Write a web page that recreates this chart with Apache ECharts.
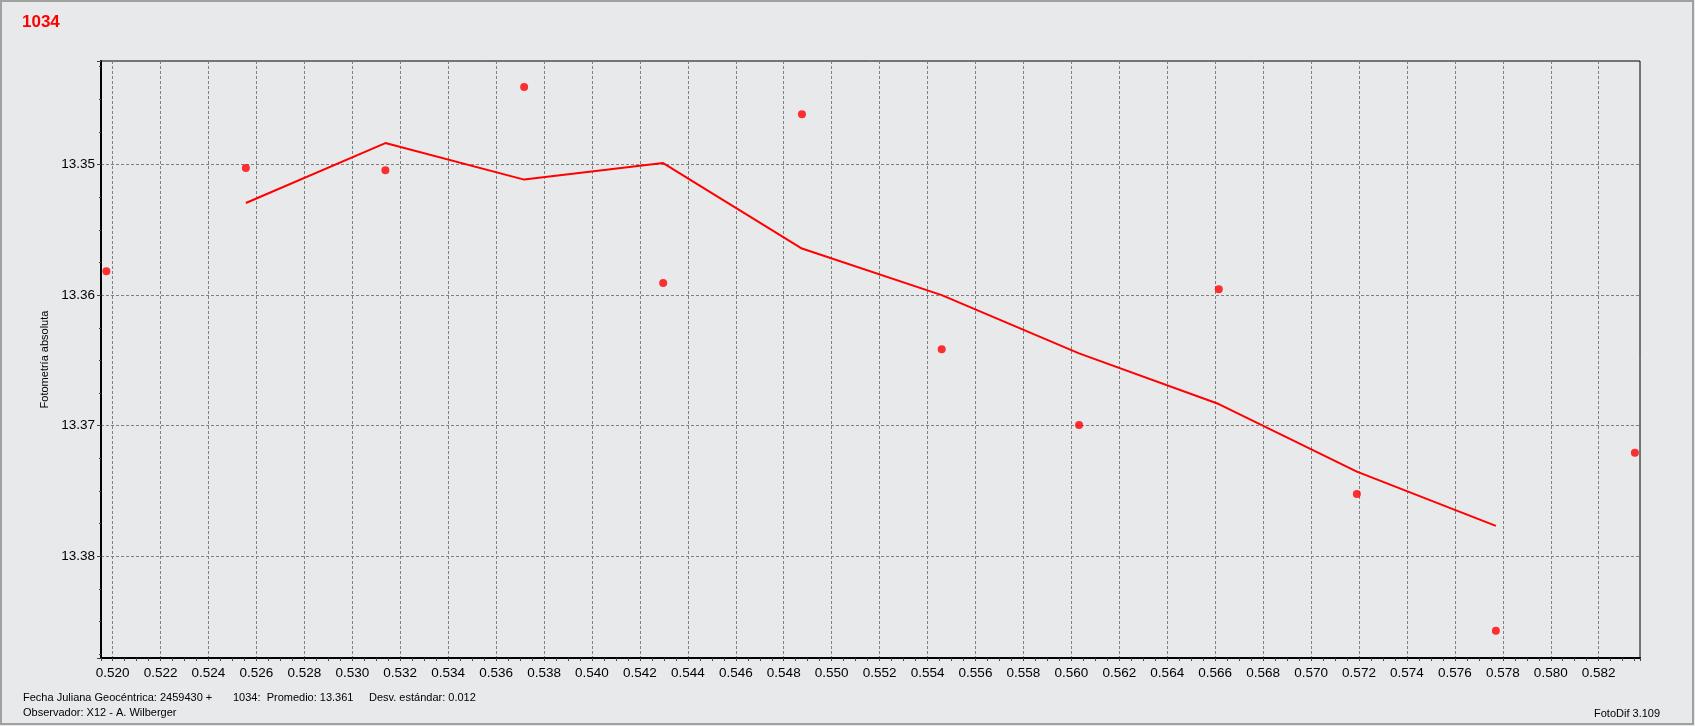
<!DOCTYPE html>
<html>
<head>
<meta charset="utf-8">
<script src="https://cdn.jsdelivr.net/npm/echarts@6/dist/echarts.min.js"></script>
<style>
html,body{margin:0;padding:0;background:#e8e9eb;}
#chart{width:1695px;height:726px;}
</style>
</head>
<body>
<div id="chart"></div>
<script>
// Observation times (JD fraction, + 2459430)
const obsTimes = [0.51974, 0.52556, 0.53138, 0.53717, 0.54297, 0.54876, 0.55459, 0.56032, 0.56615, 0.57191, 0.57771, 0.58351];
// Absolute photometry of each observation
const obsMag = [13.35816, 13.35026, 13.35044, 13.34406, 13.35906, 13.34615, 13.36415, 13.36994, 13.35954, 13.37523, 13.38571, 13.37207];
// Smoothed (running mean) curve as drawn
const avgTimes = [0.52556, 0.53138, 0.53717, 0.54297, 0.54876, 0.55459, 0.56032, 0.56615, 0.57191, 0.57771];
const avgMag = [13.35294, 13.34835, 13.35115, 13.34988, 13.35643, 13.36000, 13.36446, 13.36834, 13.37352, 13.37767];

const titleText = '1034';
const yName = 'Fotometría absoluta';
const footer1a = 'Fecha Juliana Geocéntrica: 2459430 +';
const footer1b = '1034:  Promedio: 13.361';
const footer1c = 'Desv. estándar: 0.012';
const footer2 = 'Observador: X12 - A. Wilberger';
const footerRight = 'FotoDif 3.109';

const xMin = 0.519516, xMax = 0.583723, xStep = 0.002;
const yMin = 13.342066, yMax = 13.387789, yStep = 0.01;

const SANS = "'Liberation Sans', Arial, sans-serif";

const chart = echarts.init(document.getElementById('chart'), null, {renderer: 'canvas'});
const gridLine = {show: true, lineStyle: {color: '#808080', width: 1, type: [3, 2]}, showMinLine: false, showMaxLine: false};

chart.setOption({
  backgroundColor: '#e8e9eb',
  animation: false,
  title: {
    text: titleText, left: 17, top: 9,
    textStyle: {color: '#ff0000', fontSize: 17, fontWeight: 'bold', fontFamily: SANS}
  },
  grid: {left: 101, top: 61, right: 55, bottom: 68, show: true, borderColor: '#000', borderWidth: 1, backgroundColor: 'transparent', outerBoundsMode: 'none'},
  xAxis: {
    type: 'value', min: xMin, max: xMax, minInterval: xStep, maxInterval: xStep,
    axisLine: {show: true, onZero: false, lineStyle: {color: '#000', width: 2}},
    axisTick: {show: true, length: 3, lineStyle: {color: '#444'}},
    minorTick: {show: true, splitNumber: 4, length: 3, lineStyle: {color: '#444'}},
    splitLine: gridLine,
    axisLabel: {
      show: true, margin: 8, showMinLabel: false, showMaxLabel: false,
      color: '#000', fontSize: 13.5, fontFamily: SANS,
      formatter: v => v.toFixed(3)
    }
  },
  yAxis: {
    type: 'value', inverse: true, min: yMin, max: yMax, minInterval: yStep, maxInterval: yStep,
    name: yName, nameLocation: 'middle', nameGap: 47, nameRotate: 90,
    nameTextStyle: {color: '#000', fontSize: 11, fontFamily: SANS},
    axisLine: {show: true, onZero: false, lineStyle: {color: '#000', width: 2}},
    axisTick: {show: true, length: 4, lineStyle: {color: '#444'}},
    minorTick: {show: true, splitNumber: 4, length: 2, lineStyle: {color: '#444'}},
    splitLine: gridLine,
    axisLabel: {
      show: true, margin: 6, showMinLabel: false, showMaxLabel: false,
      color: '#000', fontSize: 13.5, fontFamily: SANS,
      formatter: v => v.toFixed(2)
    }
  },
  graphic: [
    {type: 'rect', silent: true, shape: {x: 1, y: 1, width: 1692, height: 723}, style: {fill: 'none', stroke: '#a0a0a0', lineWidth: 2}},
    {type: 'text', left: 23, top: 692, style: {text: footer1a, fill: '#000', font: "11px " + SANS}},
    {type: 'text', left: 233, top: 692, style: {text: footer1b, fill: '#000', font: "11px " + SANS}},
    {type: 'text', left: 369, top: 692, style: {text: footer1c, fill: '#000', font: "11px " + SANS}},
    {type: 'text', left: 23, top: 707, style: {text: footer2, fill: '#000', font: "11px " + SANS}},
    {type: 'text', left: 1594, top: 708, style: {text: footerRight, fill: '#000', font: "11px " + SANS}}
  ],
  series: [
    {
      type: 'scatter', name: 'obs', symbol: 'circle', symbolSize: 8,
      itemStyle: {color: '#ff0000'},
      data: obsTimes.map((t, i) => [t, obsMag[i]]),
      z: 3
    },
    {
      type: 'line', name: 'avg', showSymbol: false, symbol: 'none',
      lineStyle: {color: '#ff0000', width: 2},
      data: avgTimes.map((t, i) => [t, avgMag[i]]),
      z: 2
    }
  ]
});
</script>
</body>
</html>
